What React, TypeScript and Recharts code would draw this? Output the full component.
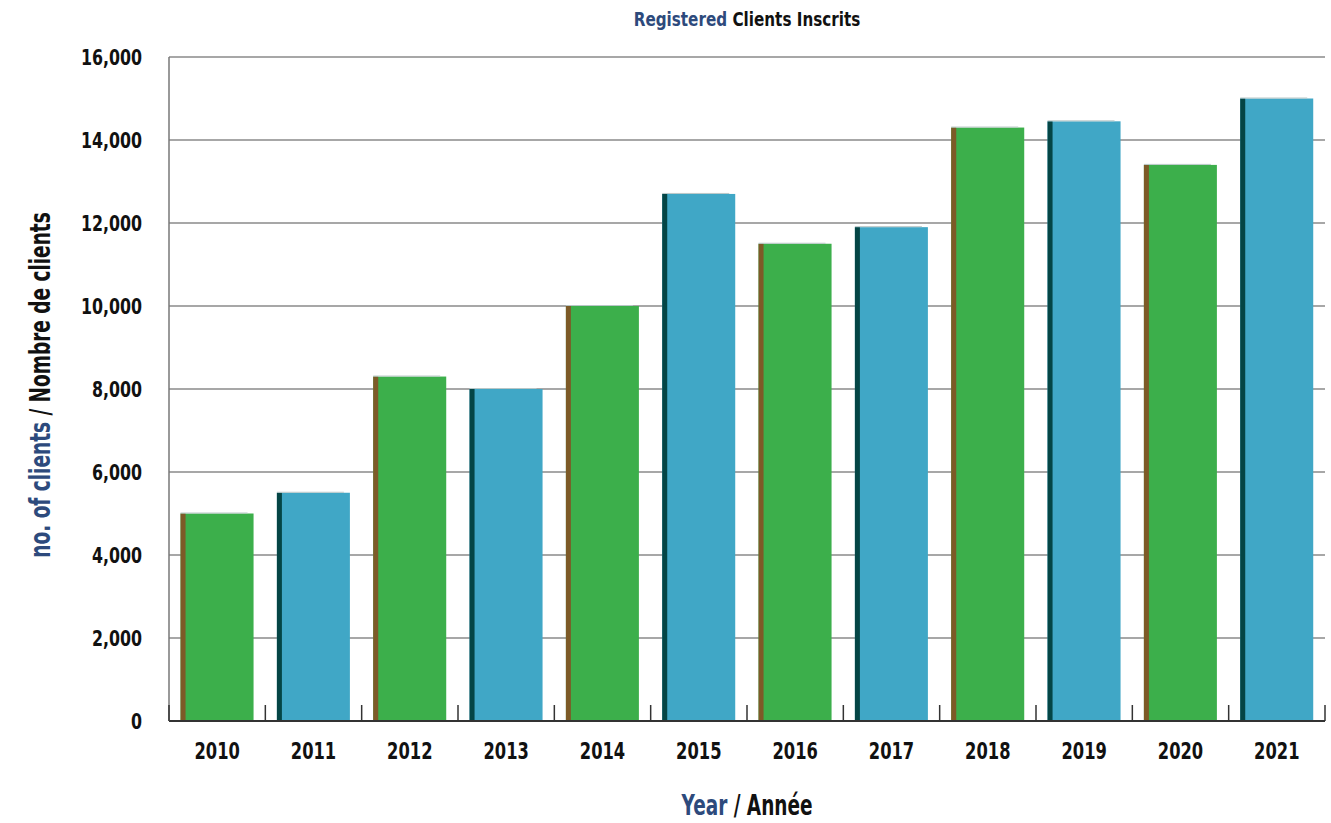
import React from 'react';
import { BarChart, Bar, XAxis, YAxis, CartesianGrid, Cell, Label } from 'recharts';

const years = ['2010', '2011', '2012', '2013', '2014', '2015', '2016', '2017', '2018', '2019', '2020', '2021'];
const clients = [5000, 5500, 8300, 8000, 10000, 12700, 11500, 11900, 14300, 14450, 13400, 15000];
const yTicks = [0, 2000, 4000, 6000, 8000, 10000, 12000, 14000, 16000];

const GREEN = '#3caf4b';
const BLUE = '#40a7c6';
const BROWN = '#7d5a27';
const TEAL = '#044545';
const NAVY = '#2d4a7c';
const INK = '#111111';
const FONT = "'DejaVu Sans', sans-serif";

const data = years.map((y, i) => ({ year: y, clients: clients[i] }));

const BarShape = (props: any) => {
  const { x, y, width, height, index } = props;
  const main = index % 2 === 0 ? GREEN : BLUE;
  const edge = index % 2 === 0 ? BROWN : TEAL;
  if (!height || height <= 0) return null;
  return (
    <g>
      <rect x={x} y={y} width={width} height={height} fill={main} />
      <rect x={x} y={y} width={5} height={height} fill={edge} />
      <line x1={x} x2={x + width - 6} y1={y - 0.5} y2={y - 0.5} stroke="#b8c6c6" strokeWidth={1} />
    </g>
  );
};

const XTick = (props: any) => {
  const { x, y, payload, index, width, visibleTicksCount } = props;
  const bw = width / visibleTicksCount;
  return (
    <g>
      {index === 0 && (
        <line x1={x - bw / 2} x2={x - bw / 2} y1={y - 16} y2={y} stroke="#333" strokeWidth={1.5} />
      )}
      <line x1={x + bw / 2} x2={x + bw / 2} y1={y - 16} y2={y} stroke="#333" strokeWidth={1.5} />
      <g transform={`translate(${x},${y + 38}) scale(0.71,1)`}>
        <text x={0} y={0} textAnchor="middle" fontFamily={FONT} fontWeight="bold" fontSize={23} fill={INK}>
          {payload.value}
        </text>
      </g>
    </g>
  );
};

const YTick = (props: any) => {
  const { x, y, payload } = props;
  return (
    <g transform={`translate(${x},${y + 8}) scale(0.72,1)`}>
      <text x={0} y={0} textAnchor="end" fontFamily={FONT} fontWeight="bold" fontSize={22} fill={INK}>
        {payload.value.toLocaleString('en-US')}
      </text>
    </g>
  );
};

export default function App() {
  return (
    <div style={{ position: 'absolute', left: 0, top: 0, width: 1331, height: 823, background: '#fff' }}>
      <div
        style={{
          position: 'absolute',
          left: 747,
          top: 7,
          transform: 'translateX(-50%) scaleX(0.76)',
          whiteSpace: 'nowrap',
          fontFamily: FONT,
          fontWeight: 'bold',
          fontSize: 20,
          color: INK,
        }}
      >
        <span style={{ color: NAVY }}>Registered</span> Clients Inscrits
      </div>
      <BarChart
        width={1331}
        height={823}
        data={data}
        margin={{ top: 57, right: 6, bottom: 62, left: 0 }}
        barCategoryGap="12%"
      >
        <CartesianGrid horizontal={true} vertical={false} stroke="#8a8a8a" strokeWidth={1.5} />
        <XAxis
          dataKey="year"
          height={40}
          tickLine={false}
          tickSize={0}
          tickMargin={0}
          axisLine={{ stroke: '#333', strokeWidth: 2 }}
          tick={<XTick />}
          interval={0}
        >
          <Label
            content={() => (
              <g transform="translate(747,815) scale(0.66,1)">
                <text x={0} y={0} textAnchor="middle" fontFamily={FONT} fontWeight="bold" fontSize={28} fill={INK}>
                  <tspan fill={NAVY}>Year</tspan>
                  <tspan> / Année</tspan>
                </text>
              </g>
            )}
          />
        </XAxis>
        <YAxis
          width={169}
          domain={[0, 16000]}
          ticks={yTicks}
          tickLine={false}
          tickSize={0}
          tickMargin={27}
          axisLine={{ stroke: '#777', strokeWidth: 1.5 }}
          tick={<YTick />}
          interval={0}
        >
          <Label
            content={() => (
              <g transform="translate(50,385) rotate(-90) scale(0.66,1)">
                <text x={0} y={0} textAnchor="middle" fontFamily={FONT} fontWeight="bold" fontSize={28} fill={INK}>
                  <tspan fill={NAVY}>no. of clients</tspan>
                  <tspan> / Nombre de clients</tspan>
                </text>
              </g>
            )}
          />
        </YAxis>
        <Bar dataKey="clients" isAnimationActive={false} shape={<BarShape />}>
          {data.map((d, i) => (
            <Cell key={d.year} fill={i % 2 === 0 ? GREEN : BLUE} />
          ))}
        </Bar>
      </BarChart>
    </div>
  );
}
